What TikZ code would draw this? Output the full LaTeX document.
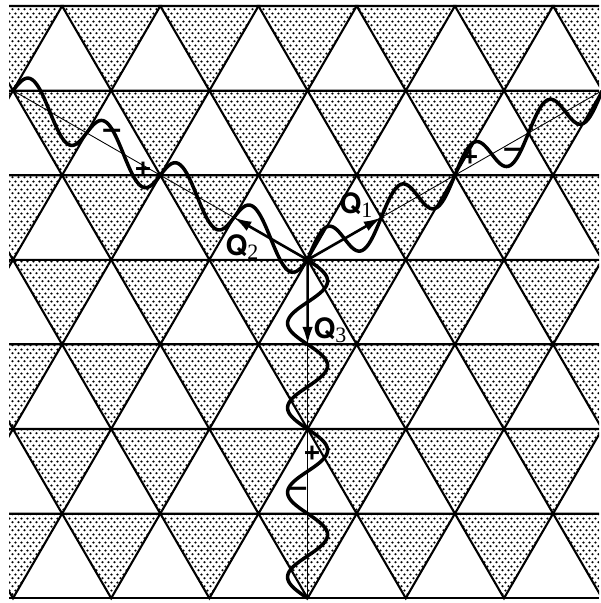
\documentclass[tikz,border=0pt]{standalone}
\usepackage{fontspec}
\setmainfont{Liberation Serif}
\newfontfamily\qfont{TeX Gyre Heros}
\usetikzlibrary{patterns.meta,arrows.meta,calc}

\tikzdeclarepattern{
  name=stipple,
  type=uncolored,
  bottom left={(0pt,0pt)},
  top right={(3.4pt,4.56pt)},
  tile size={(3.4pt,4.56pt)},
  code={
    \fill (0.85pt,1.14pt) circle (0.72pt);
    \fill (2.55pt,3.42pt) circle (0.72pt);
  }
}

\newcommand{\qlab}[1]{{\qfont\bfseries\fontsize{16}{18}\selectfont Q}\raisebox{-0.5ex}{\fontsize{12.5}{14}\selectfont #1}}

\begin{document}
\begin{tikzpicture}[x=0.02cm,y=-0.02cm,
  grid/.style={line width=1.2pt},
  thin axis/.style={line width=0.5pt},
  wave/.style={line width=2pt,line join=round},
  qarrow/.style={line width=1.5pt,-{Latex[length=10pt,width=6pt]}},
  sgn/.style={font=\qfont\bfseries\fontsize{17}{18}\selectfont,inner sep=0pt}]
\useasboundingbox (0,0) rectangle (601,603);
\def\s{98.2}\def\h{84.6}\def\xo{13}\def\yo{6}
% lattice, down triangles stippled
\begin{scope}
\clip (9,4) rectangle (599,600);
\foreach \j in {0,...,6}{
  \pgfmathsetmacro\o{mod(\j,2)==0 ? \s/2 : 0}
  \foreach \k in {-1,...,6}
    \draw[grid,pattern=stipple] (\xo+\o+\k*\s,\yo+\j*\h) -- ++(\s,0) -- ++(-\s/2,\h) -- cycle;
}
\foreach \j in {0,...,7}
  \draw[grid] (9,\yo+\j*\h) -- (599,\yo+\j*\h);
\end{scope}
\coordinate (C) at (307.6,259.8);
\coordinate (E1) at (602.2,90.6);
\coordinate (E2) at (13,90.6);
\coordinate (E3) at (307.6,598.2);
\draw[thin axis] (C) -- (E1);
\draw[thin axis] (C) -- (E2);
\draw[thin axis] (C) -- (E3);
% waves
\draw[wave] plot[domain=0:1,samples=241,smooth] ({307.6+294.6*\x},{259.8-169.2*\x-22*sin(1440*\x)});
\draw[wave] plot[domain=0:1,samples=241,smooth] ({307.6-294.6*\x},{259.8-169.2*\x+22*sin(1440*\x)});
\draw[wave] plot[domain=0:1,samples=241,smooth] ({307.6+20*sin(1440*\x)},{259.8+338.4*\x});
% Q vectors
\draw[qarrow] (C) -- ($(C)!0.25!(E1)$);
\draw[qarrow] (C) -- ($(C)!0.25!(E2)$);
\draw[qarrow] (C) -- ($(C)!0.25!(E3)$);
\node (q1) at (356,205) {\qlab{1}};
\node (q2) at (242,247) {\qlab{2}};
\node (q3) at (330,330) {\qlab{3}};
% signs
\node[sgn] (m2) at (112,134) {–};
\node[sgn] (p2) at (143,169) {+};
\node[sgn] (p1) at (470,157) {+};
\node[sgn] (m1) at (513,153) {–};
\node[sgn] (p3) at (312,453) {+};
\node[sgn] (m3) at (298,492) {–};
\end{tikzpicture}
\end{document}
